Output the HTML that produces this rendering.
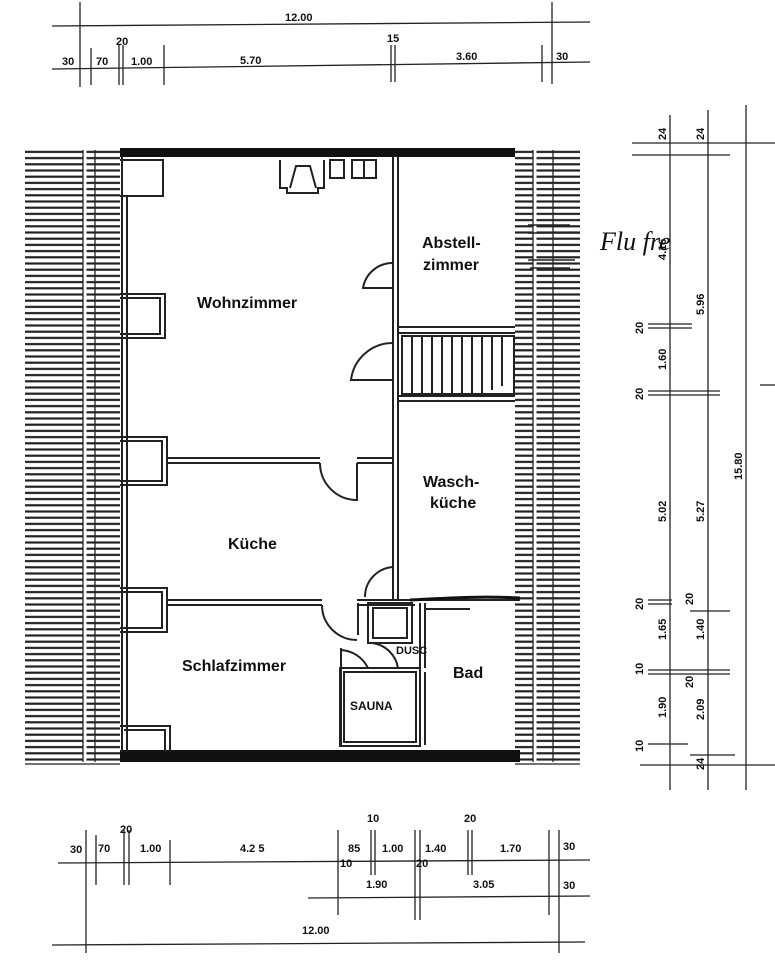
<!DOCTYPE html>
<html><head><meta charset="utf-8"><style>
html,body{margin:0;padding:0;background:#fff;}
svg{display:block}
text{font-family:"Liberation Sans",sans-serif;fill:#111}
.l{font-weight:bold;font-size:16px}
.d{font-size:11px;font-weight:bold}
</style></head><body>
<svg width="775" height="960" viewBox="0 0 775 960" xmlns="http://www.w3.org/2000/svg">
<defs>
<pattern id="h" width="10" height="6.2" patternUnits="userSpaceOnUse">
<rect x="0" y="2" width="10" height="2.2" fill="#222"/>
</pattern>
</defs>
<g stroke="#222" stroke-width="1.3" fill="none">
<line x1="52" y1="26" x2="590" y2="22"/>
<line x1="52" y1="69" x2="590" y2="62"/>
<line x1="80" y1="2" x2="80" y2="87"/>
<line x1="552" y1="2" x2="552" y2="84"/>
<line x1="91" y1="48" x2="91" y2="85"/>
<line x1="119" y1="45" x2="119" y2="85"/>
<line x1="123" y1="45" x2="123" y2="85"/>
<line x1="164" y1="45" x2="164" y2="85"/>
<line x1="391" y1="45" x2="391" y2="82"/>
<line x1="395" y1="45" x2="395" y2="82"/>
<line x1="542" y1="45" x2="542" y2="82"/>
<line x1="58" y1="863" x2="590" y2="860"/>
<line x1="308" y1="898" x2="590" y2="896"/>
<line x1="52" y1="945" x2="585" y2="942"/>
<line x1="86" y1="830" x2="86" y2="953"/>
<line x1="96" y1="835" x2="96" y2="885"/>
<line x1="124" y1="830" x2="124" y2="885"/>
<line x1="129" y1="830" x2="129" y2="885"/>
<line x1="170" y1="840" x2="170" y2="885"/>
<line x1="338" y1="830" x2="338" y2="915"/>
<line x1="371" y1="830" x2="371" y2="875"/>
<line x1="375" y1="830" x2="375" y2="875"/>
<line x1="415" y1="830" x2="415" y2="920"/>
<line x1="420" y1="830" x2="420" y2="920"/>
<line x1="468" y1="830" x2="468" y2="875"/>
<line x1="472" y1="830" x2="472" y2="875"/>
<line x1="549" y1="830" x2="549" y2="915"/>
<line x1="559" y1="830" x2="559" y2="953"/>
<line x1="670" y1="115" x2="670" y2="790"/>
<line x1="708" y1="110" x2="708" y2="790"/>
<line x1="746" y1="105" x2="746" y2="790"/>
<line x1="632" y1="143" x2="775" y2="143"/>
<line x1="632" y1="155" x2="730" y2="155"/>
<line x1="640" y1="765" x2="775" y2="765"/>
<line x1="648" y1="324" x2="692" y2="324"/><line x1="648" y1="328" x2="692" y2="328"/>
<line x1="648" y1="391" x2="720" y2="391"/><line x1="648" y1="395" x2="720" y2="395"/>
<line x1="648" y1="600" x2="672" y2="600"/><line x1="648" y1="604" x2="672" y2="604"/>
<line x1="690" y1="611" x2="730" y2="611"/>
<line x1="648" y1="670" x2="730" y2="670"/><line x1="648" y1="674" x2="730" y2="674"/>
<line x1="648" y1="744" x2="688" y2="744"/>
<line x1="690" y1="755" x2="735" y2="755"/>
<line x1="760" y1="385" x2="775" y2="385"/>
</g>
<g class="d">
<text x="285" y="21">12.00</text>
<text x="62" y="65">30</text><text x="96" y="65">70</text><text x="116" y="45">20</text>
<text x="131" y="65">1.00</text><text x="240" y="64">5.70</text><text x="387" y="42">15</text>
<text x="456" y="60">3.60</text><text x="556" y="60">30</text>
<text x="70" y="853">30</text><text x="98" y="852">70</text><text x="120" y="833">20</text>
<text x="140" y="852">1.00</text><text x="240" y="852">4.2 5</text>
<text x="348" y="852">85</text><text x="367" y="822">10</text><text x="382" y="852">1.00</text>
<text x="425" y="852">1.40</text><text x="464" y="822">20</text><text x="500" y="852">1.70</text>
<text x="563" y="850">30</text><text x="340" y="867">10</text><text x="416" y="867">20</text>
<text x="366" y="888">1.90</text><text x="473" y="888">3.05</text><text x="563" y="889">30</text>
<text x="302" y="934">12.00</text>
<g transform="rotate(-90)">
<text x="-140" y="666">24</text><text x="-140" y="704">24</text>
<text x="-260" y="666">4.16</text><text x="-315" y="704">5.96</text>
<text x="-334" y="643">20</text><text x="-370" y="666">1.60</text><text x="-400" y="643">20</text>
<text x="-522" y="666">5.02</text><text x="-522" y="704">5.27</text><text x="-480" y="742">15.80</text>
<text x="-610" y="643">20</text><text x="-605" y="693">20</text>
<text x="-640" y="666">1.65</text><text x="-640" y="704">1.40</text>
<text x="-675" y="643">10</text><text x="-688" y="693">20</text>
<text x="-718" y="666">1.90</text><text x="-720" y="704">2.09</text>
<text x="-752" y="643">10</text><text x="-770" y="704">24</text>
</g>
</g>
<rect x="25" y="150" width="95" height="612" fill="url(#h)"/>
<rect x="515" y="150" width="65" height="612" fill="url(#h)"/>
<g stroke="#fff" stroke-width="3"><line x1="85" y1="150" x2="85" y2="762"/><line x1="535" y1="150" x2="535" y2="762"/></g>
<g stroke="#222" stroke-width="1.3" fill="none">
<line x1="83" y1="150" x2="83" y2="762"/><line x1="95" y1="150" x2="95" y2="762"/>
<line x1="533" y1="150" x2="533" y2="762"/><line x1="553" y1="150" x2="553" y2="762"/>
<line x1="25" y1="764" x2="120" y2="764"/><line x1="515" y1="764" x2="580" y2="764"/>
</g>
<rect x="120" y="156" width="395" height="596" fill="#fff"/>
<rect x="120" y="148" width="395" height="9" fill="#111"/>
<rect x="120" y="750" width="400" height="12" fill="#111"/>
<g stroke="#222" stroke-width="2" fill="none">
<line x1="122" y1="156" x2="122" y2="752"/><line x1="127" y1="196" x2="127" y2="752"/>
<path d="M120 160 H163 V196 H120"/><path d="M120 294 H165 V338 H120"/><path d="M120 298 H160 V334 H120"/>
<path d="M120 437 H167 V485 H120"/><path d="M120 441 H162 V481 H120"/>
<path d="M120 588 H167 V632 H120"/><path d="M120 592 H162 V628 H120"/>
<path d="M120 726 H170 V752"/><path d="M124 730 H165 V752"/>
<line x1="393" y1="156" x2="393" y2="600"/><line x1="398" y1="156" x2="398" y2="600"/>
<line x1="398" y1="327" x2="515" y2="327"/><line x1="398" y1="333" x2="515" y2="333"/>
<line x1="398" y1="396" x2="515" y2="396"/><line x1="398" y1="401" x2="515" y2="401"/>
<line x1="167" y1="458" x2="320" y2="458"/><line x1="167" y1="463" x2="320" y2="463"/>
<line x1="357" y1="458" x2="393" y2="458"/><line x1="357" y1="463" x2="393" y2="463"/>
<line x1="167" y1="600" x2="322" y2="600"/><line x1="167" y1="605" x2="322" y2="605"/>
<line x1="357" y1="600" x2="415" y2="600"/><line x1="357" y1="605" x2="415" y2="605"/>
<path d="M320 463 A37 37 0 0 0 357 500 V463"/>
<path d="M322 605 A35 35 0 0 0 357 640"/>
<path d="M393 263 A30 30 0 0 0 363 288 H393"/>
<path d="M393 343 A42 42 0 0 0 351 380 H393"/>
<path d="M393 567 A30 30 0 0 0 365 597"/>
<rect x="402" y="336" width="112" height="58"/>
<path d="M412 336v58M422 336v58M432 336v58M442 336v58M452 336v58M462 336v58M472 336v58M482 336v58M492 336v54M502 336v50"/>
<path d="M280 160 V188 H287 V193 H318 V188 H324 V160"/><path d="M290 188 L296 166 H310 L316 188"/>
<rect x="330" y="160" width="14" height="18"/><rect x="352" y="160" width="24" height="18"/><line x1="364" y1="160" x2="364" y2="178"/>
<rect x="368" y="603" width="44" height="40"/><rect x="373" y="608" width="34" height="30"/>
<path d="M358 603 V635"/>
<path d="M340 650 A32 32 0 0 1 368 668"/><line x1="341" y1="648" x2="341" y2="745"/>
<rect x="340" y="668" width="80" height="78"/><rect x="344" y="672" width="72" height="70"/>
<path d="M372 643 A30 30 0 0 1 398 668"/>
<line x1="420" y1="603" x2="420" y2="668"/><line x1="425" y1="603" x2="425" y2="668"/>
<line x1="420" y1="672" x2="420" y2="745"/><line x1="425" y1="672" x2="425" y2="745"/>
<line x1="415" y1="600" x2="520" y2="600"/><line x1="425" y1="609" x2="470" y2="609"/>
</g>
<path d="M410 600 C450 598 480 596 520 598" stroke="#111" stroke-width="3" fill="none"/>
<path d="M528 225 H570 M528 233 H580 M528 260 H575 M530 268 H570" stroke="#222" stroke-width="1.5"/>
<text x="600" y="250" style="font-family:'Liberation Serif',serif;font-size:26px;font-style:italic">Flu fre</text>
<text class="l" x="197" y="308">Wohnzimmer</text>
<text class="l" x="422" y="248">Abstell-</text><text class="l" x="423" y="270">zimmer</text>
<text class="l" x="423" y="487">Wasch-</text><text class="l" x="430" y="508">küche</text>
<text class="l" x="228" y="549">Küche</text>
<text class="l" x="182" y="671">Schlafzimmer</text>
<text class="l" x="453" y="678">Bad</text>
<text x="350" y="710" style="font-size:12px;font-weight:bold">SAUNA</text>
<text x="396" y="654" style="font-size:11px;font-weight:bold">DUSC</text>
</svg>
</body></html>
